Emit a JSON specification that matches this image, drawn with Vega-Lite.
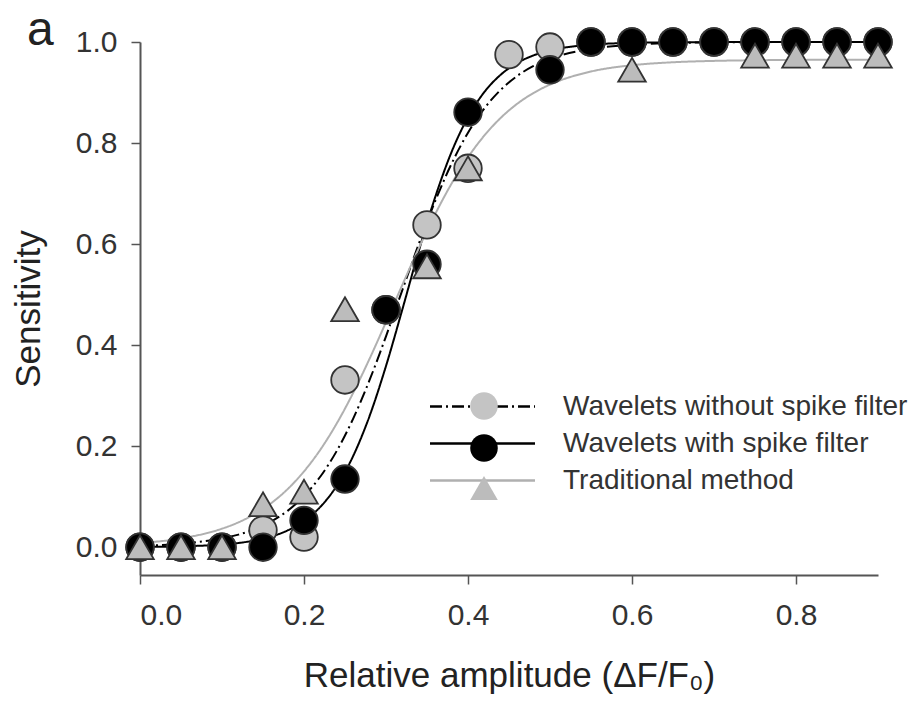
{
  "$schema": "https://vega.github.io/schema/vega-lite/v6.json",
  "width": 738,
  "height": 533,
  "autosize": {"type": "none"},
  "padding": {"left": 140, "top": 42, "right": 31, "bottom": 137},
  "background": "white",
  "title": {"text": "a", "anchor": "start", "frame": "group", "fontSize": 48, "font": "Liberation Sans", "fontWeight": "normal", "color": "#222", "dx": -113, "offset": 0, "baseline": "alphabetic", "dy": 68},
  "config": {
    "view": {"stroke": null},
    "axis": {"grid": false, "domainColor": "#555", "domainWidth": 2, "tickColor": "#555", "tickWidth": 1.5, "tickSize": 9, "labelFont": "Liberation Sans", "labelFontSize": 30, "labelColor": "#333", "titleFont": "Liberation Sans", "titleFontSize": 35, "titleFontWeight": "normal", "titleColor": "#222"}
  },
  "layer": [
    {
      "data": {"values": [
        {"x": 0, "y": 0.0028, "series": "Wavelets without spike filter", "order": 1},
        {"x": 0.05, "y": 0.0069, "series": "Wavelets without spike filter", "order": 1},
        {"x": 0.1, "y": 0.0174, "series": "Wavelets without spike filter", "order": 1},
        {"x": 0.12, "y": 0.0249, "series": "Wavelets without spike filter", "order": 1},
        {"x": 0.14, "y": 0.0357, "series": "Wavelets without spike filter", "order": 1},
        {"x": 0.16, "y": 0.0509, "series": "Wavelets without spike filter", "order": 1},
        {"x": 0.18, "y": 0.072, "series": "Wavelets without spike filter", "order": 1},
        {"x": 0.2, "y": 0.1011, "series": "Wavelets without spike filter", "order": 1},
        {"x": 0.22, "y": 0.14, "series": "Wavelets without spike filter", "order": 1},
        {"x": 0.24, "y": 0.1908, "series": "Wavelets without spike filter", "order": 1},
        {"x": 0.26, "y": 0.2546, "series": "Wavelets without spike filter", "order": 1},
        {"x": 0.28, "y": 0.331, "series": "Wavelets without spike filter", "order": 1},
        {"x": 0.3, "y": 0.4175, "series": "Wavelets without spike filter", "order": 1},
        {"x": 0.32, "y": 0.5093, "series": "Wavelets without spike filter", "order": 1},
        {"x": 0.34, "y": 0.6004, "series": "Wavelets without spike filter", "order": 1},
        {"x": 0.36, "y": 0.6852, "series": "Wavelets without spike filter", "order": 1},
        {"x": 0.38, "y": 0.7592, "series": "Wavelets without spike filter", "order": 1},
        {"x": 0.4, "y": 0.8204, "series": "Wavelets without spike filter", "order": 1},
        {"x": 0.42, "y": 0.8687, "series": "Wavelets without spike filter", "order": 1},
        {"x": 0.44, "y": 0.9055, "series": "Wavelets without spike filter", "order": 1},
        {"x": 0.46, "y": 0.9328, "series": "Wavelets without spike filter", "order": 1},
        {"x": 0.48, "y": 0.9526, "series": "Wavelets without spike filter", "order": 1},
        {"x": 0.5, "y": 0.9667, "series": "Wavelets without spike filter", "order": 1},
        {"x": 0.55, "y": 0.9866, "series": "Wavelets without spike filter", "order": 1},
        {"x": 0.6, "y": 0.9946, "series": "Wavelets without spike filter", "order": 1},
        {"x": 0.65, "y": 0.9979, "series": "Wavelets without spike filter", "order": 1},
        {"x": 0.7, "y": 0.9992, "series": "Wavelets without spike filter", "order": 1},
        {"x": 0.8, "y": 0.9999, "series": "Wavelets without spike filter", "order": 1},
        {"x": 0.9, "y": 1.0, "series": "Wavelets without spike filter", "order": 1},
        {"x": 0, "y": 0.0005, "series": "Wavelets with spike filter", "order": 2},
        {"x": 0.05, "y": 0.0017, "series": "Wavelets with spike filter", "order": 2},
        {"x": 0.1, "y": 0.0053, "series": "Wavelets with spike filter", "order": 2},
        {"x": 0.12, "y": 0.0084, "series": "Wavelets with spike filter", "order": 2},
        {"x": 0.14, "y": 0.0134, "series": "Wavelets with spike filter", "order": 2},
        {"x": 0.16, "y": 0.0211, "series": "Wavelets with spike filter", "order": 2},
        {"x": 0.18, "y": 0.0332, "series": "Wavelets with spike filter", "order": 2},
        {"x": 0.2, "y": 0.0518, "series": "Wavelets with spike filter", "order": 2},
        {"x": 0.22, "y": 0.08, "series": "Wavelets with spike filter", "order": 2},
        {"x": 0.24, "y": 0.1217, "series": "Wavelets with spike filter", "order": 2},
        {"x": 0.26, "y": 0.1807, "series": "Wavelets with spike filter", "order": 2},
        {"x": 0.28, "y": 0.2599, "series": "Wavelets with spike filter", "order": 2},
        {"x": 0.3, "y": 0.3587, "series": "Wavelets with spike filter", "order": 2},
        {"x": 0.32, "y": 0.471, "series": "Wavelets with spike filter", "order": 2},
        {"x": 0.34, "y": 0.5865, "series": "Wavelets with spike filter", "order": 2},
        {"x": 0.36, "y": 0.693, "series": "Wavelets with spike filter", "order": 2},
        {"x": 0.38, "y": 0.7825, "series": "Wavelets with spike filter", "order": 2},
        {"x": 0.4, "y": 0.8512, "series": "Wavelets with spike filter", "order": 2},
        {"x": 0.42, "y": 0.9011, "series": "Wavelets with spike filter", "order": 2},
        {"x": 0.44, "y": 0.9354, "series": "Wavelets with spike filter", "order": 2},
        {"x": 0.46, "y": 0.9585, "series": "Wavelets with spike filter", "order": 2},
        {"x": 0.48, "y": 0.9735, "series": "Wavelets with spike filter", "order": 2},
        {"x": 0.5, "y": 0.9832, "series": "Wavelets with spike filter", "order": 2},
        {"x": 0.55, "y": 0.9947, "series": "Wavelets with spike filter", "order": 2},
        {"x": 0.6, "y": 0.9983, "series": "Wavelets with spike filter", "order": 2},
        {"x": 0.65, "y": 0.9995, "series": "Wavelets with spike filter", "order": 2},
        {"x": 0.7, "y": 0.9998, "series": "Wavelets with spike filter", "order": 2},
        {"x": 0.8, "y": 1.0, "series": "Wavelets with spike filter", "order": 2},
        {"x": 0.9, "y": 1.0, "series": "Wavelets with spike filter", "order": 2},
        {"x": 0, "y": 0.0081, "series": "Traditional method", "order": 3},
        {"x": 0.05, "y": 0.0174, "series": "Traditional method", "order": 3},
        {"x": 0.1, "y": 0.0367, "series": "Traditional method", "order": 3},
        {"x": 0.12, "y": 0.0492, "series": "Traditional method", "order": 3},
        {"x": 0.14, "y": 0.0658, "series": "Traditional method", "order": 3},
        {"x": 0.16, "y": 0.0873, "series": "Traditional method", "order": 3},
        {"x": 0.18, "y": 0.115, "series": "Traditional method", "order": 3},
        {"x": 0.2, "y": 0.1501, "series": "Traditional method", "order": 3},
        {"x": 0.22, "y": 0.1932, "series": "Traditional method", "order": 3},
        {"x": 0.24, "y": 0.2452, "series": "Traditional method", "order": 3},
        {"x": 0.26, "y": 0.3056, "series": "Traditional method", "order": 3},
        {"x": 0.28, "y": 0.3732, "series": "Traditional method", "order": 3},
        {"x": 0.3, "y": 0.4455, "series": "Traditional method", "order": 3},
        {"x": 0.32, "y": 0.5195, "series": "Traditional method", "order": 3},
        {"x": 0.34, "y": 0.5919, "series": "Traditional method", "order": 3},
        {"x": 0.36, "y": 0.6594, "series": "Traditional method", "order": 3},
        {"x": 0.38, "y": 0.7198, "series": "Traditional method", "order": 3},
        {"x": 0.4, "y": 0.7718, "series": "Traditional method", "order": 3},
        {"x": 0.42, "y": 0.815, "series": "Traditional method", "order": 3},
        {"x": 0.44, "y": 0.85, "series": "Traditional method", "order": 3},
        {"x": 0.46, "y": 0.8777, "series": "Traditional method", "order": 3},
        {"x": 0.48, "y": 0.8992, "series": "Traditional method", "order": 3},
        {"x": 0.5, "y": 0.9157, "series": "Traditional method", "order": 3},
        {"x": 0.55, "y": 0.9416, "series": "Traditional method", "order": 3},
        {"x": 0.6, "y": 0.954, "series": "Traditional method", "order": 3},
        {"x": 0.65, "y": 0.9599, "series": "Traditional method", "order": 3},
        {"x": 0.7, "y": 0.9626, "series": "Traditional method", "order": 3},
        {"x": 0.8, "y": 0.9645, "series": "Traditional method", "order": 3},
        {"x": 0.9, "y": 0.965, "series": "Traditional method", "order": 3}
      ]},
      "mark": {"type": "line", "interpolate": "monotone", "strokeWidth": 2},
      "encoding": {
        "x": {"field": "x", "type": "quantitative", "scale": {"domain": [0, 0.9], "nice": false, "zero": false},
          "axis": {"values": [0, 0.2, 0.4, 0.6, 0.8], "format": ".1f", "title": "Relative amplitude (ΔF/F₀)", "labelPadding": 16, "titlePadding": 28}},
        "y": {"field": "y", "type": "quantitative", "scale": {"domain": [-0.055, 1.0], "nice": false, "zero": false},
          "axis": {"values": [0, 0.2, 0.4, 0.6, 0.8, 1.0], "format": ".1f", "title": "Sensitivity", "labelPadding": 14, "titlePadding": 29}},
        "stroke": {"field": "series", "type": "nominal",
          "sort": {"field": "order", "op": "min"},
          "scale": {"range": ["#000000", "#000000", "#b0b0b0"]},
          "legend": {"title": null, "orient": "none", "legendX": 326, "legendY": 348, "padding": 0, "symbolType": "M-3.5,0H3.5", "symbolSize": 900, "symbolStrokeWidth": 2.5, "symbolOpacity": 1, "labelFont": "Liberation Sans", "labelFontSize": 28, "labelColor": "#333", "labelOffset": 64, "rowPadding": 6, "labelLimit": 600}},
        "strokeDash": {"field": "series", "type": "nominal",
          "sort": {"field": "order", "op": "min"},
          "scale": {"range": [[12, 4, 2, 4], [1, 0], [1, 0]]},
          "legend": {"title": null, "orient": "none", "legendX": 326, "legendY": 348, "padding": 0, "symbolType": "M-3.5,0H3.5", "symbolSize": 900, "symbolStrokeWidth": 2.5, "symbolOpacity": 1, "labelFont": "Liberation Sans", "labelFontSize": 28, "labelColor": "#333", "labelOffset": 64, "rowPadding": 6, "labelLimit": 600}}
      }
    },
    {
      "data": {"values": [
        {"x": 0, "y": 0, "method": "Wavelets without spike filter", "order": 1},
        {"x": 0.05, "y": 0, "method": "Wavelets without spike filter", "order": 1},
        {"x": 0.1, "y": 0, "method": "Wavelets without spike filter", "order": 1},
        {"x": 0.15, "y": 0.034, "method": "Wavelets without spike filter", "order": 1},
        {"x": 0.2, "y": 0.02, "method": "Wavelets without spike filter", "order": 1},
        {"x": 0.25, "y": 0.331, "method": "Wavelets without spike filter", "order": 1},
        {"x": 0.3, "y": 0.47, "method": "Wavelets without spike filter", "order": 1},
        {"x": 0.35, "y": 0.638, "method": "Wavelets without spike filter", "order": 1},
        {"x": 0.4, "y": 0.75, "method": "Wavelets without spike filter", "order": 1},
        {"x": 0.45, "y": 0.975, "method": "Wavelets without spike filter", "order": 1},
        {"x": 0.5, "y": 0.99, "method": "Wavelets without spike filter", "order": 1},
        {"x": 0.55, "y": 1.0, "method": "Wavelets without spike filter", "order": 1},
        {"x": 0.6, "y": 1.0, "method": "Wavelets without spike filter", "order": 1},
        {"x": 0.65, "y": 1.0, "method": "Wavelets without spike filter", "order": 1},
        {"x": 0.7, "y": 1.0, "method": "Wavelets without spike filter", "order": 1},
        {"x": 0.75, "y": 1.0, "method": "Wavelets without spike filter", "order": 1},
        {"x": 0.8, "y": 1.0, "method": "Wavelets without spike filter", "order": 1},
        {"x": 0.85, "y": 1.0, "method": "Wavelets without spike filter", "order": 1},
        {"x": 0.9, "y": 1.0, "method": "Wavelets without spike filter", "order": 1},
        {"x": 0, "y": 0, "method": "Wavelets with spike filter", "order": 2},
        {"x": 0.05, "y": 0, "method": "Wavelets with spike filter", "order": 2},
        {"x": 0.1, "y": 0, "method": "Wavelets with spike filter", "order": 2},
        {"x": 0.15, "y": 0, "method": "Wavelets with spike filter", "order": 2},
        {"x": 0.2, "y": 0.053, "method": "Wavelets with spike filter", "order": 2},
        {"x": 0.25, "y": 0.135, "method": "Wavelets with spike filter", "order": 2},
        {"x": 0.3, "y": 0.47, "method": "Wavelets with spike filter", "order": 2},
        {"x": 0.35, "y": 0.56, "method": "Wavelets with spike filter", "order": 2},
        {"x": 0.4, "y": 0.861, "method": "Wavelets with spike filter", "order": 2},
        {"x": 0.5, "y": 0.945, "method": "Wavelets with spike filter", "order": 2},
        {"x": 0.55, "y": 1.0, "method": "Wavelets with spike filter", "order": 2},
        {"x": 0.6, "y": 1.0, "method": "Wavelets with spike filter", "order": 2},
        {"x": 0.65, "y": 1.0, "method": "Wavelets with spike filter", "order": 2},
        {"x": 0.7, "y": 1.0, "method": "Wavelets with spike filter", "order": 2},
        {"x": 0.75, "y": 1.0, "method": "Wavelets with spike filter", "order": 2},
        {"x": 0.8, "y": 1.0, "method": "Wavelets with spike filter", "order": 2},
        {"x": 0.85, "y": 1.0, "method": "Wavelets with spike filter", "order": 2},
        {"x": 0.9, "y": 1.0, "method": "Wavelets with spike filter", "order": 2},
        {"x": 0, "y": 0, "method": "Traditional method", "order": 3},
        {"x": 0.05, "y": 0, "method": "Traditional method", "order": 3},
        {"x": 0.1, "y": 0, "method": "Traditional method", "order": 3},
        {"x": 0.15, "y": 0.085, "method": "Traditional method", "order": 3},
        {"x": 0.2, "y": 0.11, "method": "Traditional method", "order": 3},
        {"x": 0.25, "y": 0.471, "method": "Traditional method", "order": 3},
        {"x": 0.35, "y": 0.556, "method": "Traditional method", "order": 3},
        {"x": 0.4, "y": 0.75, "method": "Traditional method", "order": 3},
        {"x": 0.6, "y": 0.945, "method": "Traditional method", "order": 3},
        {"x": 0.75, "y": 0.973, "method": "Traditional method", "order": 3},
        {"x": 0.8, "y": 0.973, "method": "Traditional method", "order": 3},
        {"x": 0.85, "y": 0.973, "method": "Traditional method", "order": 3},
        {"x": 0.9, "y": 0.973, "method": "Traditional method", "order": 3}
      ]},
      "mark": {"type": "point", "filled": true, "opacity": 1, "size": 760, "stroke": "#333333", "strokeWidth": 1.8},
      "encoding": {
        "x": {"field": "x", "type": "quantitative"},
        "y": {"field": "y", "type": "quantitative"},
        "color": {"field": "method", "type": "nominal",
          "sort": {"field": "order", "op": "min"},
          "scale": {"range": ["#c4c4c4", "#000000", "#bcbcbc"]},
          "legend": {"title": null, "orient": "none", "legendX": 329, "legendY": 349, "padding": 0, "symbolSize": 760, "symbolStrokeColor": "#333333", "symbolStrokeWidth": 1.8, "symbolOpacity": 1, "labelExpr": "''", "labelFontSize": 28, "rowPadding": 6}},
        "shape": {"field": "method", "type": "nominal",
          "sort": {"field": "order", "op": "min"},
          "scale": {"range": ["circle", "circle", "triangle-up"]},
          "legend": {"title": null, "orient": "none", "legendX": 329, "legendY": 349, "padding": 0, "symbolSize": 760, "symbolStrokeColor": "#333333", "symbolStrokeWidth": 1.8, "symbolOpacity": 1, "labelExpr": "''", "labelFontSize": 28, "rowPadding": 6}}
      }
    }
  ]
}
